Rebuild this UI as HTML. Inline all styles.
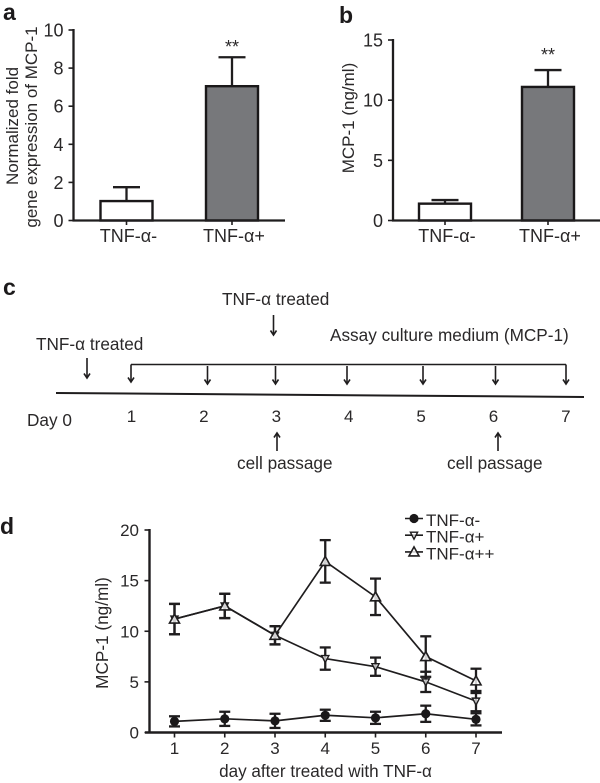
<!DOCTYPE html>
<html>
<head>
<meta charset="utf-8">
<style>
html,body{margin:0;padding:0;background:#fff;width:600px;height:783px;overflow:hidden}
svg{display:block}
text{font-family:"Liberation Sans",sans-serif;fill:#2a2829}
.panel{font-weight:bold;font-size:23px;fill:#1c1a1b}
.c{font-size:17.2px}
.ln{stroke:#1f1d1e;fill:none}
</style>
</head>
<body>
<svg id="fig" xmlns="http://www.w3.org/2000/svg" width="600" height="783" viewBox="0 0 600 783">
<text class="panel" x="3" y="20">a</text>
<text class="panel" x="339" y="23">b</text>
<text class="panel" x="3" y="295">c</text>
<text class="panel" x="0" y="534">d</text>

<g id="chartA"></g>
<g id="chartB"></g>

<g id="timeline">
  <text class="c" x="36" y="350">TNF-α treated</text>
  <text class="c" x="222" y="305">TNF-α treated</text>
  <text class="c" x="330" y="341">Assay culture medium (MCP-1)</text>
  <text class="c" x="27" y="426">Day 0</text>
  <text class="c" x="237" y="469">cell passage</text>
  <text class="c" x="447" y="469">cell passage</text>
  <line class="ln" stroke-width="2" x1="56" y1="393" x2="584" y2="397"/>
  <line class="ln" stroke-width="1.6" x1="131" y1="364.5" x2="566" y2="364.5"/>
</g>

<g id="chartD"></g>
</svg>
<script>
var NS = "http://www.w3.org/2000/svg";

// panel a data
var aCategories = ["TNF-α-", "TNF-α+"];
var aValues = [1.02, 7.05];
var aErrors = [0.73, 1.52];
var aTicks = [0, 2, 4, 6, 8, 10];
// panel b data
var bCategories = ["TNF-α-", "TNF-α+"];
var bValues = [1.4, 11.1];
var bErrors = [0.3, 1.4];
var bTicks = [0, 5, 10, 15];
// panel c data
var dayLabels = ["1", "2", "3", "4", "5", "6", "7"];
// panel d data
var days = [1, 2, 3, 4, 5, 6, 7];
var dTicks = [0, 5, 10, 15, 20];
var tnfMinus = [1.1, 1.35, 1.15, 1.7, 1.45, 1.85, 1.3];
var tnfMinusErr = [0.5, 0.7, 0.7, 0.55, 0.6, 0.8, 0.6];
var tnfPlus = [11.2, 12.5, 9.6, 7.3, 6.5, 5.0, 3.1];
var tnfPlusErr = [1.5, 1.2, 0.9, 1.1, 0.9, 1.0, 1.0];
var tnfPlusPlus = [11.2, 12.5, 9.6, 16.9, 13.4, 7.5, 5.1];
var tnfPlusPlusErr = [1.5, 1.2, 0.9, 2.1, 1.8, 2.0, 1.2];

function make(parent, tag, attrs) {
  var el = document.createElementNS(NS, tag);
  for (var k in attrs) el.setAttribute(k, attrs[k]);
  parent.appendChild(el);
  return el;
}
function line(parent, x1, y1, x2, y2, w) {
  return make(parent, "line", {x1: x1, y1: y1, x2: x2, y2: y2, stroke: "#1f1d1e", "stroke-width": w});
}
function label(parent, x, y, str, anchor, size, rotate) {
  var a = {x: x, y: y, "text-anchor": anchor, "font-size": size};
  if (rotate) a.transform = "rotate(-90 " + x + " " + y + ")";
  var t = make(parent, "text", a);
  t.textContent = str;
  return t;
}

function barChart(rootId, o) {
  var root = document.getElementById(rootId);
  var yS = function (v) { return o.y0 - (v / o.vmax) * (o.y0 - o.yTop); };
  var xS = function (i) { return o.x1 + i * o.step; };
  o.values.forEach(function (v, i) {
    var cx = xS(i), top = yS(v), errTop = yS(v + o.errors[i]);
    var stem = line(root, cx, top, cx, errTop, 2.3);
    
    
    var cap = line(root, cx - 13.5, errTop, cx + 13.5, errTop, 2.3);
    
    
    var bar = make(root, "rect", {x: cx - o.bw / 2, y: top, width: o.bw, height: o.y0 - top,
      fill: i === 0 ? "#fff" : "#77787b", stroke: "#1a1819", "stroke-width": 2.4});
    
    
    var tick = line(root, cx, o.y0, cx, o.y0 + 4.5, 1.6);
    
    
    var cat = label(root, cx + 2, 242, o.categories[i], "middle", 18);
    
    
  });
  var yAxis = line(root, o.xAxis, o.yTop - 1, o.xAxis, o.y0 + 1, 2.3);
  
  
  var xAxis = line(root, o.xAxis - 1, o.y0, o.xEnd, o.y0, 2.3);
  
  
  o.ticks.forEach(function (t) {
    var y = yS(t);
    var tk = line(root, o.xAxis - 5, y, o.xAxis, y, 1.6);
    
    
    var tl = label(root, o.xAxis - 10, y + 6.5, String(t), "end", 18);
    
    
  });
  var star = label(root, xS(1), o.starY, "**", "middle", 18);
  
  
  o.titles.forEach(function (tt) {
    var yt = label(root, tt[0], tt[1], tt[2], "middle", 17, true);
    
    
  });
}

barChart("chartA", {
  categories: aCategories, values: aValues, errors: aErrors, ticks: aTicks, vmax: 10,
  y0: 220.5, yTop: 30, xAxis: 73.5, xEnd: 285, x1: 126.5, step: 105.5, bw: 52, starY: 53,
  titles: [[18, 126, "Normalized fold"], [37, 127, "gene expression of MCP-1"]]
});
barChart("chartB", {
  categories: bCategories, values: bValues, errors: bErrors, ticks: bTicks, vmax: 15,
  y0: 220.5, yTop: 40, xAxis: 393, xEnd: 600, x1: 445, step: 103, bw: 52, starY: 61,
  titles: [[354, 118, "MCP-1 (ng/ml)"]]
});

// panel c arrows and day numbers
var tl = document.getElementById("timeline");
function arrow(x, y1, y2, name) {
  var dir = y2 > y1 ? -1 : 1;
  var g = make(tl, "g", {});
  
  
  line(g, x, y1, x, y2, 1.6);
  make(g, "path", {d: "M" + (x - 3) + " " + (y2 + dir * 4.5) + "L" + x + " " + y2 + "L" + (x + 3) + " " + (y2 + dir * 4.5),
    fill: "none", stroke: "#1f1d1e", "stroke-width": 1.6});
}
arrow(87, 358, 378, "arrow-tnf-day0");
arrow(273.5, 315, 335, "arrow-tnf-day3");
arrow(131, 364.5, 382, "arrow-assay-day1");
arrow(207.5, 366, 384, "arrow-assay-day2");
arrow(275.5, 366, 384, "arrow-assay-day3");
arrow(347, 366, 384, "arrow-assay-day4");
arrow(423, 366, 384, "arrow-assay-day5");
arrow(495.5, 366, 384, "arrow-assay-day6");
arrow(566, 364.5, 384, "arrow-assay-day7");
arrow(277, 451, 433, "arrow-passage-day3");
arrow(498, 451, 433, "arrow-passage-day6");
var dayStart = 131.5, dayStep = 72.4;
dayLabels.forEach(function (d, i) {
  var t = label(tl, dayStart + i * dayStep, 422, d, "middle", 17);
  
  
});

// panel d
var rootD = document.getElementById("chartD");
function dx(d) { return 174.5 + (d - 1) * 50.25; }
function dy(v) { return 732.5 - (v / 20) * 202.5; }

function marker(parent, kind, x, y) {
  if (kind === "circle") {
    return make(parent, "circle", {cx: x, cy: y, r: 4.6, fill: "#1a1819"});
  }
  if (kind === "down") {
    return make(parent, "path", {d: "M" + (x - 3.6) + " " + (y - 3) + "H" + (x + 3.6) + "L" + x + " " + (y + 4) + "Z",
      fill: "#fff", "fill-opacity": 0.7, stroke: "#1f1d1e", "stroke-width": 1.4});
  }
  return make(parent, "path", {d: "M" + (x - 5) + " " + (y + 4) + "H" + (x + 5) + "L" + x + " " + (y - 5) + "Z",
    fill: "#fff", "fill-opacity": 0.8, stroke: "#1f1d1e", "stroke-width": 1.6});
}

function series(name, vals, errs, kind) {
  var g = make(rootD, "g", {fill: "none"});
  
  
  var pts = vals.map(function (v, i) { return dx(days[i]) + "," + dy(v); }).join(" ");
  var pl = make(g, "polyline", {points: pts, fill: "none", stroke: "#1f1d1e", "stroke-width": 1.7});
  
  
  vals.forEach(function (v, i) {
    var x = dx(days[i]), hi = dy(v + errs[i]), lo = dy(v - errs[i]);
    line(g, x, hi, x, lo, 2.3);
    line(g, x - 5.5, hi, x + 5.5, hi, 2.3);
    line(g, x - 5.5, lo, x + 5.5, lo, 2.3);
    var m = marker(g, kind, x, dy(v));
    
    
  });
}
series("series-tnf-minus", tnfMinus, tnfMinusErr, "circle");
series("series-tnf-plus", tnfPlus, tnfPlusErr, "down");
series("series-tnf-plus-plus", tnfPlusPlus, tnfPlusPlusErr, "up");

var dyAxis = line(rootD, 149.5, 529, 149.5, 733.5, 2.4);


var dxAxis = line(rootD, 145, 732.5, 502, 732.5, 2.4);


dTicks.forEach(function (t) {
  var k = line(rootD, 144.5, dy(t), 149.5, dy(t), 1.6);
  
  
  var s = label(rootD, 139, dy(t) + 6, String(t), "end", 17);
  
  
});
days.forEach(function (d) {
  var k = line(rootD, dx(d), 732.5, dx(d), 737.5, 1.6);
  
  
  var s = label(rootD, dx(d), 754, String(d), "middle", 17);
  
  
});
var dYTitle = label(rootD, 108, 633, "MCP-1 (ng/ml)", "middle", 17.2, true);


var dXTitle = label(rootD, 325.5, 777, "day after treated with TNF-α", "middle", 17.1);



var legendNames = ["TNF-α-", "TNF-α+", "TNF-α++"];
var legendKinds = ["circle", "down", "up"];
legendNames.forEach(function (n, i) {
  var y = 518.5 + i * 16.7;
  var g = make(rootD, "g", {});
  
  
  line(g, 405, y, 423, y, 1.6);
  marker(g, legendKinds[i], 414, y);
  label(g, 426, y + 7.5, n, "start", 17);
});
</script>
</body>
</html>
